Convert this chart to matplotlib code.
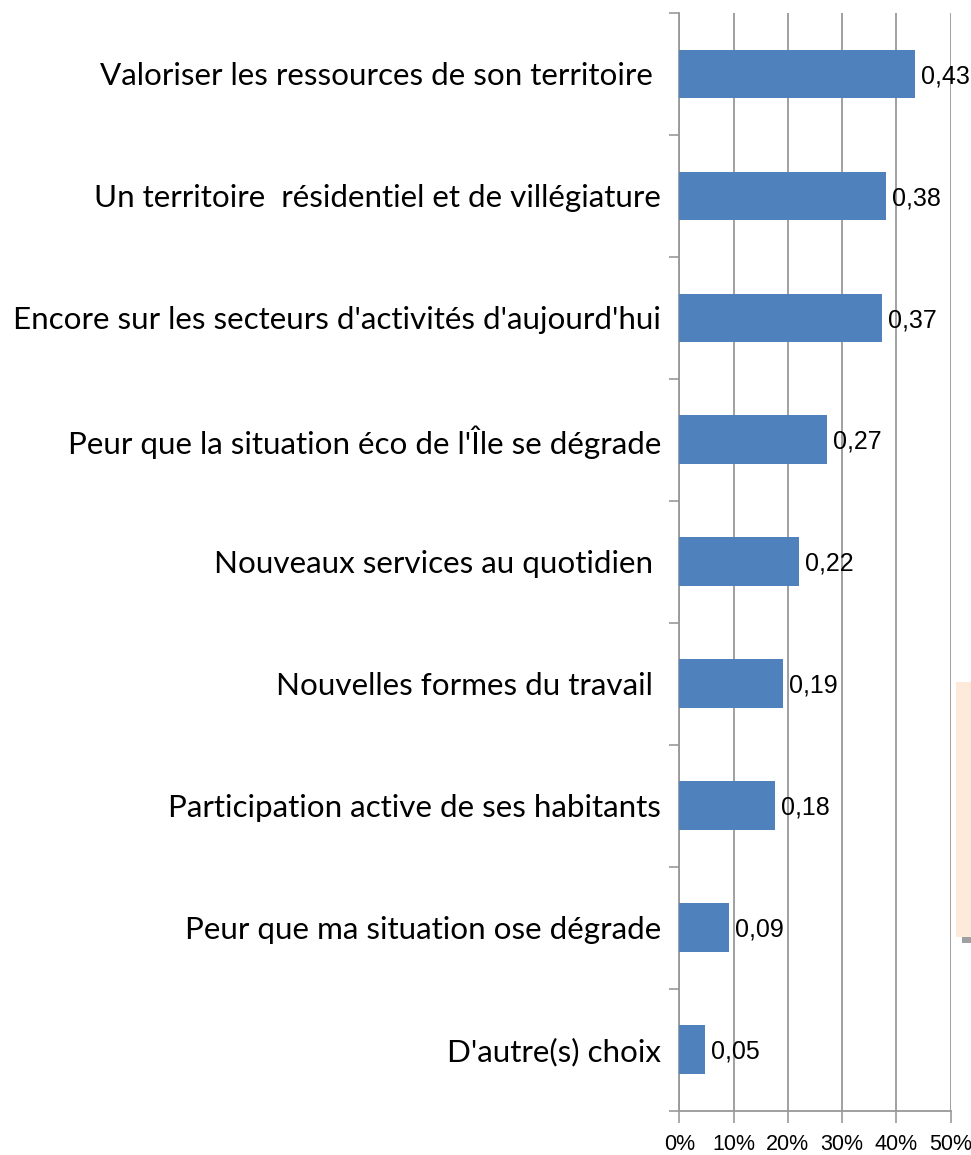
import matplotlib
matplotlib.use("Agg")
import matplotlib.pyplot as plt
from matplotlib.patches import Rectangle
import numpy as np

# categories top to bottom, as on the chart
categories = [
    "Valoriser les ressources de son territoire ",
    "Un territoire  résidentiel et de villégiature",
    "Encore sur les secteurs d'activités d'aujourd'hui",
    "Peur que la situation éco de l'Île se dégrade",
    "Nouveaux services au quotidien ",
    "Nouvelles formes du travail ",
    "Participation active de ses habitants",
    "Peur que ma situation ose dégrade",
    "D'autre(s) choix",
]
values = [0.434, 0.381, 0.373, 0.272, 0.220, 0.191, 0.176, 0.0915, 0.047]
value_labels = ["0,43", "0,38", "0,37", "0,27", "0,22", "0,19", "0,18", "0,09", "0,05"]
xticks = [0, 0.1, 0.2, 0.3, 0.4, 0.5]
xtick_labels = ["0%", "10%", "20%", "30%", "40%", "50%"]

cat_font = ["Lato", "DejaVu Sans"]
num_font = ["Liberation Sans", "DejaVu Sans"]
grey = "#999999"

fig = plt.figure(figsize=(9.71, 11.55), dpi=100)
ax = fig.add_axes([679.3 / 971, 44.3 / 1155, 271.4 / 971, 1097.7 / 1155])

n = len(categories)
ypos = np.arange(n)[::-1]
ax.barh(ypos, values, height=0.40, color="#4f81bd", zorder=3)

for y, v, lab in zip(ypos, values, value_labels):
    ax.annotate(lab, (v, y), xytext=(4.5, -1.5), textcoords="offset points",
                va="center", ha="left", fontsize=18, family=num_font, zorder=4)

ax.set_xlim(0, 0.5)
ax.set_ylim(-0.5, n - 0.5)

ax.set_yticks(ypos)
ax.set_yticklabels(categories, fontsize=22.6, family=cat_font)
ax.set_yticks(np.arange(-0.5, n, 1.0), minor=True)
ax.tick_params(axis="y", which="major", length=0, pad=13)
ax.tick_params(axis="y", which="minor", length=7.5, width=1.2, color=grey, direction="out")

ax.set_xticks(xticks)
ax.set_xticklabels(xtick_labels, fontsize=15.5, family=num_font)
ax.tick_params(axis="x", length=8.5, width=1.2, color=grey, pad=8)

ax.grid(axis="x", color=grey, linewidth=1.3, zorder=0)
for s in ["top", "right"]:
    ax.spines[s].set_visible(False)
for s in ["left", "bottom"]:
    ax.spines[s].set_color(grey)
    ax.spines[s].set_linewidth(1.3)

# cut-off box on the right edge
fig.patches.append(Rectangle((956 / 971, (1155 - 937) / 1155), 20 / 971, 255 / 1155,
                             transform=fig.transFigure, facecolor="#fdeadb",
                             edgecolor="none"))
fig.patches.append(Rectangle((962 / 971, (1155 - 943) / 1155), 15 / 971, 6 / 1155,
                             transform=fig.transFigure, facecolor="#a0a0a0",
                             edgecolor="none"))

fig.savefig("out.png", dpi=100)
